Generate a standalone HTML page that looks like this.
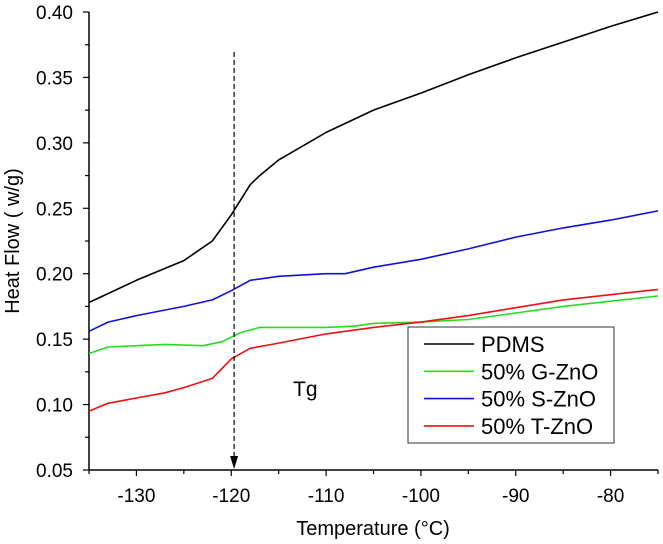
<!DOCTYPE html>
<html><head><meta charset="utf-8"><style>
body{margin:0;background:#fff;}
svg{display:block;font-family:"Liberation Sans",Arial,sans-serif;}
</style></head><body>
<svg id="chart" width="663" height="544">
<g id="axes"></g>
<g id="series"></g>
<text x="293" y="396" font-size="21">Tg</text>
<text x="373" y="535" font-size="20" text-anchor="middle">Temperature (°C)</text>
<text transform="translate(19,241) rotate(-90)" font-size="20" text-anchor="middle">Heat Flow ( w/g)</text>
<g>
<rect x="408" y="327" width="206" height="116" fill="#fff" stroke="#333" stroke-width="1"/>
</g>
</svg>
<script>
const xTicks=[-130,-120,-110,-100,-90,-80];
const yTicks=[0.05,0.10,0.15,0.20,0.25,0.30,0.35,0.40];
const seriesNames=["PDMS","50% G-ZnO","50% S-ZnO","50% T-ZnO"];
const seriesColors=["#000","#22dd22","#1010dd","#ee1010"];
const pdmsT=[-135,-130,-125,-122,-120,-118,-117,-115,-110,-105,-100,-95,-90,-85,-80,-75];
const pdmsV=[0.178,0.195,0.21,0.225,0.245,0.268,0.275,0.287,0.308,0.325,0.338,0.352,0.365,0.377,0.389,0.40];
const greenT=[-135,-133,-130,-127,-123,-121,-119,-117,-113,-110,-107,-105,-100,-95,-90,-85,-80,-75];
const greenV=[0.139,0.144,0.145,0.146,0.145,0.148,0.155,0.159,0.159,0.159,0.16,0.162,0.163,0.165,0.17,0.175,0.179,0.183];
const blueT=[-135,-133,-130,-125,-122,-120,-118,-115,-110,-108,-105,-100,-95,-90,-85,-80,-75];
const blueV=[0.156,0.163,0.168,0.175,0.18,0.187,0.195,0.198,0.2,0.2,0.205,0.211,0.219,0.228,0.235,0.241,0.248];
const redT=[-135,-133,-130,-127,-125,-122,-120,-118,-115,-110,-105,-100,-95,-90,-85,-80,-75];
const redV=[0.095,0.101,0.105,0.109,0.113,0.12,0.135,0.143,0.147,0.154,0.159,0.163,0.168,0.174,0.18,0.184,0.188];
const tgValue=-119.7;

const NS="http://www.w3.org/2000/svg";
const X0=89,X1=658,Y0=470,Y1=12,xmin=-135,xmax=-75,ymin=0.05,ymax=0.40;
const sx=v=>X0+(v-xmin)/(xmax-xmin)*(X1-X0);
const sy=v=>Y0-(v-ymin)/(ymax-ymin)*(Y0-Y1);
function mk(tag,attrs,parent){const e=document.createElementNS(NS,tag);for(const k in attrs)e.setAttribute(k,attrs[k]);parent.appendChild(e);return e;}
const axes=document.getElementById('axes');
const svg=document.getElementById('chart');
let a=mk('line',{x1:X0,y1:Y0,x2:X1,y2:Y0,stroke:'#000','stroke-width':1.5},axes);


a=mk('line',{x1:X0,y1:Y0,x2:X0,y2:Y1,stroke:'#000','stroke-width':1.5},axes);


for(let v=xmin;v<=xmax;v+=5){const major=xTicks.includes(v);
 const t=mk('line',{x1:sx(v),y1:Y0,x2:sx(v),y2:Y0+(major?6:4),stroke:'#000','stroke-width':1.2},axes);
 
 }
xTicks.forEach(v=>{const t=mk('text',{x:sx(v),y:Y0+32,'font-size':19,'text-anchor':'middle'},axes);t.textContent=v;
 
 });
for(let i=0;i<yTicks.length;i++){const v=yTicks[i];
 let t=mk('line',{x1:X0-6,y1:sy(v),x2:X0,y2:sy(v),stroke:'#000','stroke-width':1.2},axes);
 
 
 if(i<yTicks.length-1){const m=(v+yTicks[i+1])/2;
  t=mk('line',{x1:X0-4,y1:sy(m),x2:X0,y2:sy(m),stroke:'#000','stroke-width':1.2},axes);
  
  }
 const l=mk('text',{x:X0-16,y:sy(v)+7,'font-size':19,'text-anchor':'end'},axes);l.textContent=v.toFixed(2);
 
 }
const sg=document.getElementById('series');
const data=[[pdmsT,pdmsV],[greenT,greenV],[blueT,blueV],[redT,redV]];
const keys=['pdms','g-zno','s-zno','t-zno'];
data.forEach((d,i)=>{
 const pts=d[0].map((t,j)=>sx(t).toFixed(1)+','+sy(d[1][j]).toFixed(1)).join(' ');
 const p=mk('polyline',{points:pts,fill:'none',stroke:seriesColors[i],'stroke-width':1.6,'stroke-linejoin':'round'},sg);
 
 
 const ly=344+i*27.3;
 const ll=mk('line',{x1:424,y1:ly,x2:474,y2:ly,stroke:seriesColors[i],'stroke-width':1.6},svg);
 
 
 const lt=mk('text',{x:481,y:ly+8,'font-size':22},svg);lt.textContent=seriesNames[i];
 
 
});
const ar=mk('line',{x1:sx(tgValue),y1:52,x2:sx(tgValue),y2:458,stroke:'#000','stroke-width':1.2,'stroke-dasharray':'5,3'},svg);


const ah=mk('polygon',{points:`${sx(tgValue)-4},456 ${sx(tgValue)+4},456 ${sx(tgValue)},469`,fill:'#000'},svg);


</script>
</body></html>
